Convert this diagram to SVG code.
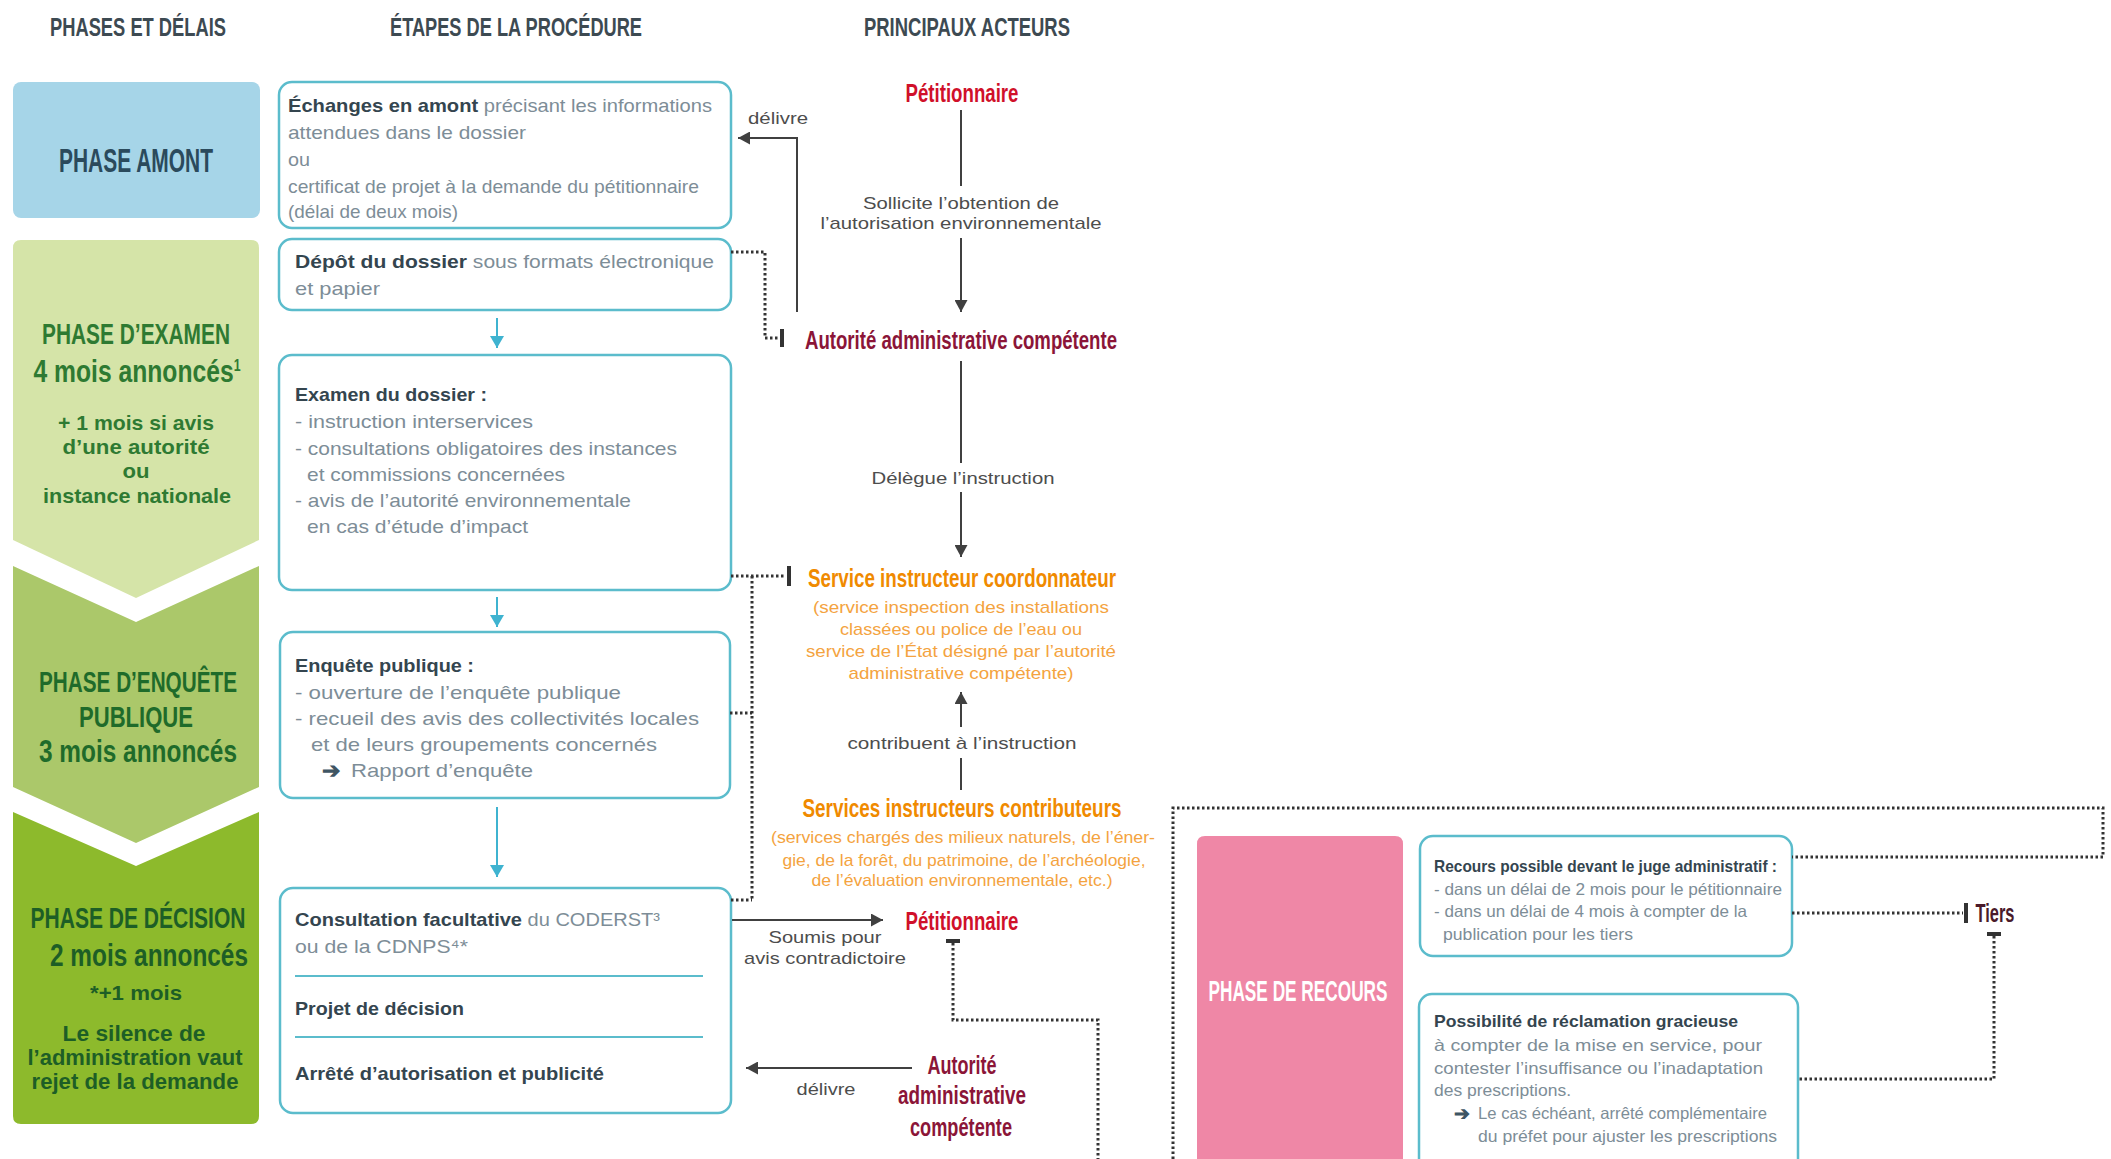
<svg xmlns="http://www.w3.org/2000/svg" width="2111" height="1159" viewBox="0 0 2111 1159">
<style>
  text { font-family: "Liberation Sans", Arial, sans-serif; }
  .hd { font-weight: bold; font-size: 26px; fill: #3d4a52; text-anchor: middle; }
  .ph { font-weight: bold; text-anchor: middle; }
  .bd { font-size: 19px; fill: #7d8d97; }
  .act { font-weight: bold; font-size: 25px; text-anchor: middle; }
  .lbl { font-size: 17px; fill: #4d4d4d; text-anchor: middle; }
  .or { font-size: 17px; fill: #f4a340; text-anchor: middle; }
  .rc { font-size: 16.5px; fill: #7d8d97; }
  .bb { font-weight: bold; fill: #34454f; }
  .box { fill: #ffffff; stroke: #5bbccc; stroke-width: 2.5; }
  .ln { fill: none; stroke: #404040; stroke-width: 2; }
  .bl { fill: none; stroke: #3fb3d0; stroke-width: 2; }
  .dot { fill: none; stroke: #333333; stroke-width: 3; stroke-dasharray: 2.5 2.5; }
  .bar { stroke: #333333; stroke-width: 4; }
</style>
<defs>
  <marker id="ah" markerUnits="userSpaceOnUse" markerWidth="13" markerHeight="13" refX="12" refY="6.5" orient="auto">
    <path d="M0,0 L12,6.5 L0,13 Z" fill="#404040"/>
  </marker>
  <marker id="bh" markerUnits="userSpaceOnUse" markerWidth="14" markerHeight="14" refX="12" refY="7" orient="auto">
    <path d="M0,0 L12,7 L0,14 Z" fill="#3fb3d0"/>
  </marker>
</defs>

<rect width="2111" height="1159" fill="#ffffff"/>

<g id="headers">
  <text class="hd" x="138" y="36" textLength="176" lengthAdjust="spacingAndGlyphs">PHASES ET DÉLAIS</text>
  <text class="hd" x="516" y="36" textLength="252" lengthAdjust="spacingAndGlyphs">ÉTAPES DE LA PROCÉDURE</text>
  <text class="hd" x="967" y="36" textLength="206" lengthAdjust="spacingAndGlyphs">PRINCIPAUX ACTEURS</text>
</g>

<g id="phase-amont">
  <rect x="13" y="82" width="247" height="136" rx="8" fill="#a6d5e8"/>
  <text class="ph" x="136" y="172" font-size="33" fill="#2b4a5c" textLength="154" lengthAdjust="spacingAndGlyphs">PHASE AMONT</text>
</g>

<g id="phase-examen">
  <path d="M13,248 Q13,240 21,240 H251 Q259,240 259,248 V540 L136,598 L13,540 Z" fill="#d5e4a8"/>
  <text class="ph" x="136" y="344" font-size="29" fill="#2e7a32" textLength="188" lengthAdjust="spacingAndGlyphs">PHASE D’EXAMEN</text>
  <text class="ph" x="137" y="382" font-size="32" fill="#2e7a32" textLength="207" lengthAdjust="spacingAndGlyphs">4 mois annoncés<tspan font-size="16" dy="-11">1</tspan></text>
  <text class="ph" x="136" y="430" font-size="21" fill="#2e7a32" textLength="156" lengthAdjust="spacingAndGlyphs">+ 1 mois si avis</text>
  <text class="ph" x="136" y="454" font-size="21" fill="#2e7a32" textLength="147" lengthAdjust="spacingAndGlyphs">d’une autorité</text>
  <text class="ph" x="136" y="478" font-size="21" fill="#2e7a32" textLength="27" lengthAdjust="spacingAndGlyphs">ou</text>
  <text class="ph" x="137" y="503" font-size="21" fill="#2e7a32" textLength="188" lengthAdjust="spacingAndGlyphs">instance nationale</text>
</g>

<g id="phase-enquete">
  <path d="M13,566 L136,622 L259,566 V787 L136,843 L13,787 Z" fill="#abc86a"/>
  <text class="ph" x="138" y="692" font-size="29" fill="#1f6b2a" textLength="198" lengthAdjust="spacingAndGlyphs">PHASE D’ENQUÊTE</text>
  <text class="ph" x="136" y="727" font-size="29" fill="#1f6b2a" textLength="114" lengthAdjust="spacingAndGlyphs">PUBLIQUE</text>
  <text class="ph" x="138" y="762" font-size="31" fill="#1f6b2a" textLength="198" lengthAdjust="spacingAndGlyphs">3 mois annoncés</text>
</g>

<g id="phase-decision">
  <path d="M13,812 L136,866 L259,812 V1116 Q259,1124 251,1124 H21 Q13,1124 13,1116 Z" fill="#8dba2c"/>
  <text class="ph" x="138" y="928" font-size="30" fill="#1d5e26" textLength="215" lengthAdjust="spacingAndGlyphs">PHASE DE DÉCISION</text>
  <text class="ph" x="149" y="966" font-size="32" fill="#1d5e26" textLength="198" lengthAdjust="spacingAndGlyphs">2 mois annoncés</text>
  <text class="ph" x="136" y="1000" font-size="21" fill="#1d5e26" textLength="92" lengthAdjust="spacingAndGlyphs">*+1 mois</text>
  <text class="ph" x="134" y="1041" font-size="22" fill="#1d5e26" textLength="143" lengthAdjust="spacingAndGlyphs">Le silence de</text>
  <text class="ph" x="135" y="1065" font-size="22" fill="#1d5e26" textLength="215" lengthAdjust="spacingAndGlyphs">l’administration vaut</text>
  <text class="ph" x="135" y="1089" font-size="22" fill="#1d5e26" textLength="207" lengthAdjust="spacingAndGlyphs">rejet de la demande</text>
</g>

<g id="step-echanges">
  <rect class="box" x="279" y="82" width="452" height="146" rx="13"/>
  <text class="bd" x="288" y="112" textLength="424" lengthAdjust="spacingAndGlyphs"><tspan class="bb">Échanges en amont</tspan> précisant les informations</text>
  <text class="bd" x="288" y="139" textLength="238" lengthAdjust="spacingAndGlyphs">attendues dans le dossier</text>
  <text class="bd" x="288" y="166" textLength="22" lengthAdjust="spacingAndGlyphs">ou</text>
  <text class="bd" x="288" y="193" textLength="411" lengthAdjust="spacingAndGlyphs">certificat de projet à la demande du pétitionnaire</text>
  <text class="bd" x="288" y="218" textLength="170" lengthAdjust="spacingAndGlyphs">(délai de deux mois)</text>
</g>

<g id="step-depot">
  <rect class="box" x="279" y="239" width="452" height="71" rx="13"/>
  <text class="bd" x="295" y="268" textLength="419" lengthAdjust="spacingAndGlyphs"><tspan class="bb">Dépôt du dossier</tspan> sous formats électronique</text>
  <text class="bd" x="295" y="295" textLength="85" lengthAdjust="spacingAndGlyphs">et papier</text>
</g>

<g id="step-examen">
  <rect class="box" x="279" y="355" width="452" height="235" rx="13"/>
  <text class="bd bb" x="295" y="401" textLength="192" lengthAdjust="spacingAndGlyphs">Examen du dossier :</text>
  <text class="bd" x="295" y="428" textLength="238" lengthAdjust="spacingAndGlyphs">- instruction interservices</text>
  <text class="bd" x="295" y="455" textLength="382" lengthAdjust="spacingAndGlyphs">- consultations obligatoires des instances</text>
  <text class="bd" x="307" y="481" textLength="258" lengthAdjust="spacingAndGlyphs">et commissions concernées</text>
  <text class="bd" x="295" y="507" textLength="336" lengthAdjust="spacingAndGlyphs">- avis de l’autorité environnementale</text>
  <text class="bd" x="307" y="533" textLength="221" lengthAdjust="spacingAndGlyphs">en cas d’étude d’impact</text>
</g>

<g id="step-enquete">
  <rect class="box" x="280" y="632" width="450" height="166" rx="13"/>
  <text class="bd bb" x="295" y="672" textLength="179" lengthAdjust="spacingAndGlyphs">Enquête publique :</text>
  <text class="bd" x="295" y="699" textLength="326" lengthAdjust="spacingAndGlyphs">- ouverture de l’enquête publique</text>
  <text class="bd" x="295" y="725" textLength="404" lengthAdjust="spacingAndGlyphs">- recueil des avis des collectivités locales</text>
  <text class="bd" x="311" y="751" textLength="346" lengthAdjust="spacingAndGlyphs">et de leurs groupements concernés</text>
  <text x="322" y="778" font-family="DejaVu Sans, sans-serif" font-size="22" font-weight="bold" fill="#3f5563">➔</text>
  <text class="bd" x="351" y="777" textLength="182" lengthAdjust="spacingAndGlyphs">Rapport d’enquête</text>
</g>

<g id="step-decision">
  <rect class="box" x="280" y="888" width="451" height="225" rx="13"/>
  <text class="bd" x="295" y="926" textLength="365" lengthAdjust="spacingAndGlyphs"><tspan class="bb">Consultation facultative</tspan> du CODERST³</text>
  <text class="bd" x="295" y="953" textLength="173" lengthAdjust="spacingAndGlyphs">ou de la CDNPS⁴*</text>
  <line x1="295" y1="976" x2="703" y2="976" stroke="#5bbccc" stroke-width="2"/>
  <text class="bd bb" x="295" y="1015" textLength="169" lengthAdjust="spacingAndGlyphs">Projet de décision</text>
  <line x1="295" y1="1037" x2="703" y2="1037" stroke="#5bbccc" stroke-width="2"/>
  <text class="bd bb" x="295" y="1080" textLength="309" lengthAdjust="spacingAndGlyphs">Arrêté d’autorisation et publicité</text>
</g>

<g id="actor-petitionnaire-1">
  <text class="act" x="962" y="102" fill="#d0102a" textLength="113" lengthAdjust="spacingAndGlyphs">Pétitionnaire</text>
</g>
<g id="actor-autorite-1">
  <text class="act" x="961" y="349" fill="#8b1538" textLength="312" lengthAdjust="spacingAndGlyphs">Autorité administrative compétente</text>
</g>
<g id="actor-service-coordonnateur">
  <text class="act" x="962" y="587" fill="#f08a00" textLength="308" lengthAdjust="spacingAndGlyphs">Service instructeur coordonnateur</text>
  <text class="or" x="961" y="613" textLength="296" lengthAdjust="spacingAndGlyphs">(service inspection des installations</text>
  <text class="or" x="961" y="635" textLength="242" lengthAdjust="spacingAndGlyphs">classées ou police de l’eau ou</text>
  <text class="or" x="961" y="657" textLength="310" lengthAdjust="spacingAndGlyphs">service de l’État désigné par l’autorité</text>
  <text class="or" x="961" y="679" textLength="225" lengthAdjust="spacingAndGlyphs">administrative compétente)</text>
</g>
<g id="actor-services-contributeurs">
  <text class="act" x="962" y="817" fill="#f08a00" textLength="319" lengthAdjust="spacingAndGlyphs">Services instructeurs contributeurs</text>
  <text class="or" x="963" y="843" textLength="384" lengthAdjust="spacingAndGlyphs">(services chargés des milieux naturels, de l’éner-</text>
  <text class="or" x="964" y="866" textLength="363" lengthAdjust="spacingAndGlyphs">gie, de la forêt, du patrimoine, de l’archéologie,</text>
  <text class="or" x="962" y="886" textLength="301" lengthAdjust="spacingAndGlyphs">de l’évaluation environnementale, etc.)</text>
</g>
<g id="actor-petitionnaire-2">
  <text class="act" x="962" y="930" fill="#d0102a" textLength="113" lengthAdjust="spacingAndGlyphs">Pétitionnaire</text>
</g>
<g id="actor-autorite-2">
  <text class="act" x="962" y="1074" fill="#8b1538" textLength="69" lengthAdjust="spacingAndGlyphs">Autorité</text>
  <text class="act" x="962" y="1104" fill="#8b1538" textLength="128" lengthAdjust="spacingAndGlyphs">administrative</text>
  <text class="act" x="961" y="1136" fill="#8b1538" textLength="102" lengthAdjust="spacingAndGlyphs">compétente</text>
</g>
<g id="actor-tiers">
  <text class="act" x="1995" y="922" fill="#4a1a2a" textLength="39" lengthAdjust="spacingAndGlyphs">Tiers</text>
</g>

<g id="phase-recours">
  <path d="M1197,844 Q1197,836 1205,836 H1395 Q1403,836 1403,844 V1159 H1197 Z" fill="#ef87a6"/>
  <text class="ph" x="1298" y="1001" font-size="29" fill="#ffffff" textLength="179" lengthAdjust="spacingAndGlyphs">PHASE DE RECOURS</text>
</g>
<g id="recours-juge">
  <rect class="box" x="1420" y="836" width="372" height="120" rx="13"/>
  <text class="rc bb" x="1434" y="872" textLength="343" lengthAdjust="spacingAndGlyphs">Recours possible devant le juge administratif :</text>
  <text class="rc" x="1434" y="895" textLength="348" lengthAdjust="spacingAndGlyphs">- dans un délai de 2 mois pour le pétitionnaire</text>
  <text class="rc" x="1434" y="917" textLength="313" lengthAdjust="spacingAndGlyphs">- dans un délai de 4 mois à compter de la</text>
  <text class="rc" x="1443" y="940" textLength="190" lengthAdjust="spacingAndGlyphs">publication pour les tiers</text>
</g>
<g id="recours-gracieux">
  <rect class="box" x="1419" y="994" width="379" height="190" rx="13"/>
  <text class="rc bb" x="1434" y="1027" textLength="304" lengthAdjust="spacingAndGlyphs">Possibilité de réclamation gracieuse</text>
  <text class="rc" x="1434" y="1051" textLength="328" lengthAdjust="spacingAndGlyphs">à compter de la mise en service, pour</text>
  <text class="rc" x="1434" y="1074" textLength="329" lengthAdjust="spacingAndGlyphs">contester l’insuffisance ou l’inadaptation</text>
  <text class="rc" x="1434" y="1096" textLength="137" lengthAdjust="spacingAndGlyphs">des prescriptions.</text>
  <text x="1454" y="1120" font-family="DejaVu Sans, sans-serif" font-size="19" font-weight="bold" fill="#3f5563">➔</text>
  <text class="rc" x="1478" y="1119" textLength="289" lengthAdjust="spacingAndGlyphs">Le cas échéant, arrêté complémentaire</text>
  <text class="rc" x="1478" y="1142" textLength="299" lengthAdjust="spacingAndGlyphs">du préfet pour ajuster les prescriptions</text>
</g>

<g id="connectors">
  <polyline class="ln" points="797,312 797,138 738,138" marker-end="url(#ah)"/>
  <text class="lbl" x="778" y="124" textLength="60" lengthAdjust="spacingAndGlyphs">délivre</text>
  <line class="ln" x1="961" y1="110" x2="961" y2="186"/>
  <text class="lbl" x="961" y="209" textLength="196" lengthAdjust="spacingAndGlyphs">Sollicite l’obtention de</text>
  <text class="lbl" x="961" y="229" textLength="281" lengthAdjust="spacingAndGlyphs">l’autorisation environnementale</text>
  <line class="ln" x1="961" y1="238" x2="961" y2="312" marker-end="url(#ah)"/>
  <line class="ln" x1="961" y1="361" x2="961" y2="463"/>
  <text class="lbl" x="963" y="484" textLength="183" lengthAdjust="spacingAndGlyphs">Délègue l’instruction</text>
  <line class="ln" x1="961" y1="492" x2="961" y2="557" marker-end="url(#ah)"/>
  <line class="ln" x1="961" y1="727" x2="961" y2="692" marker-end="url(#ah)"/>
  <text class="lbl" x="962" y="749" textLength="229" lengthAdjust="spacingAndGlyphs">contribuent à l’instruction</text>
  <line class="ln" x1="961" y1="758" x2="961" y2="790"/>
  <line class="ln" x1="732" y1="920" x2="883" y2="920" marker-end="url(#ah)"/>
  <text class="lbl" x="825" y="943" textLength="113" lengthAdjust="spacingAndGlyphs">Soumis pour</text>
  <text class="lbl" x="825" y="964" textLength="162" lengthAdjust="spacingAndGlyphs">avis contradictoire</text>
  <line class="ln" x1="912" y1="1068" x2="746" y2="1068" marker-end="url(#ah)"/>
  <text class="lbl" x="826" y="1095" textLength="59" lengthAdjust="spacingAndGlyphs">délivre</text>

  <line class="bl" x1="497" y1="318" x2="497" y2="348" marker-end="url(#bh)"/>
  <line class="bl" x1="497" y1="597" x2="497" y2="627" marker-end="url(#bh)"/>
  <line class="bl" x1="497" y1="807" x2="497" y2="877" marker-end="url(#bh)"/>

  <path class="dot" d="M731,252 H765 V338 H779"/>
  <line class="bar" x1="782" y1="329" x2="782" y2="347"/>
  <path class="dot" d="M731,576 H786"/>
  <line class="bar" x1="789" y1="566" x2="789" y2="586"/>
  <path class="dot" d="M752,576 V900 M730,713 H752 M731,900 H752"/>
  <line class="bar" x1="946" y1="941" x2="960" y2="941"/>
  <path class="dot" d="M953,943 V1020 H1098 V1159"/>
  <path class="dot" d="M1173,1159 V808 H2103 V857 H1792"/>
  <path class="dot" d="M1792,913 H1963"/>
  <line class="bar" x1="1966" y1="903" x2="1966" y2="923"/>
  <line class="bar" x1="1987" y1="934" x2="2001" y2="934"/>
  <path class="dot" d="M1994,936 V1079 H1798"/>
</g>
</svg>
